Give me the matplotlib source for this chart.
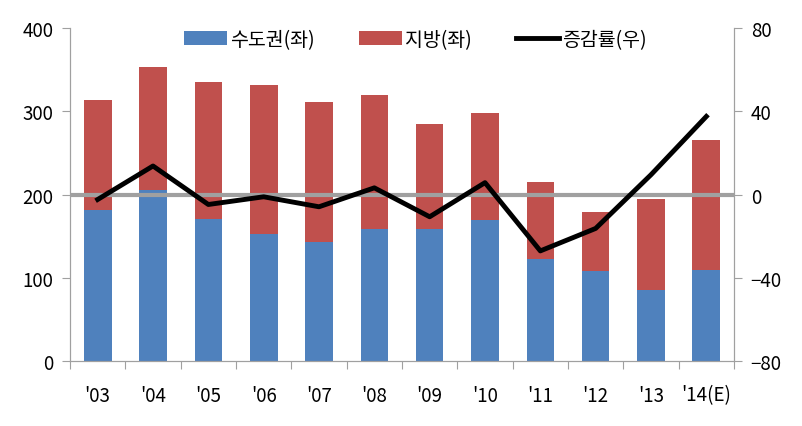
import numpy as np
import matplotlib.pyplot as plt

plt.rcParams['font.family'] = ['Noto Sans CJK KR', 'DejaVu Sans']

years = ["'03", "'04", "'05", "'06", "'07", "'08", "'09", "'10", "'11", "'12", "'13", "'14(E)"]
capital = [181, 205, 170, 152, 143, 158, 158, 169, 122, 108, 85, 109]
total = [313, 353, 335, 332, 311, 320, 285, 298, 215, 179, 194, 266]
local = [t - c for t, c in zip(total, capital)]
growth = [-2.4, 13.7, -4.8, -1.1, -5.9, 3.2, -10.7, 5.7, -27.1, -16.3, 9.5, 37.5]

blue = '#4F81BD'
red = '#C0504D'
grey = '#A0A0A0'

fig = plt.figure(figsize=(8.02, 4.27), dpi=100)
ax = fig.add_axes([70/802, 65/427, 664/802, 333/427])
x = np.arange(len(years))

b1 = ax.bar(x, capital, width=0.5, color=blue, label='수도권(좌)')
b2 = ax.bar(x, local, width=0.5, bottom=capital, color=red, label='지방(좌)')

ax.set_xlim(-0.5, len(years) - 0.5)
ax.set_ylim(0, 400)
ax.set_yticks([0, 100, 200, 300, 400])
ax.set_xticks(np.arange(-0.5, len(years)), minor=False)
ax.set_xticklabels([])
ax.set_xticks(x, minor=True)
ax.set_xticklabels(years, minor=True)
ax.tick_params(axis='x', which='minor', length=0, pad=17, labelsize=13.5)
ax.tick_params(axis='x', which='major', length=6, color=grey)
ax.tick_params(axis='y', length=6, color=grey, labelsize=13.5, pad=6)

ax2 = ax.twinx()
ax2.set_ylim(-80, 80)
ax2.set_yticks([-80, -40, 0, 40, 80])
ax2.tick_params(axis='y', length=6, color=grey, labelsize=13.5, pad=6)
ax2.axhline(0, color=grey, lw=3, zorder=1)
ln, = ax2.plot(x, growth, color='black', lw=3.5, label='증감률(우)', zorder=3)

for a in (ax, ax2):
    a.spines['top'].set_visible(False)
    for s in ('left', 'right', 'bottom'):
        a.spines[s].set_color(grey)

ax.legend([b1, b2, ln], ['수도권(좌)', '지방(좌)', '증감률(우)'], loc='upper center',
          bbox_to_anchor=(0.52, 1.05), ncol=3, frameon=False, fontsize=14,
          handlelength=2.2, handletextpad=0.15, columnspacing=2.3)

fig.savefig('out.png', dpi=100)
